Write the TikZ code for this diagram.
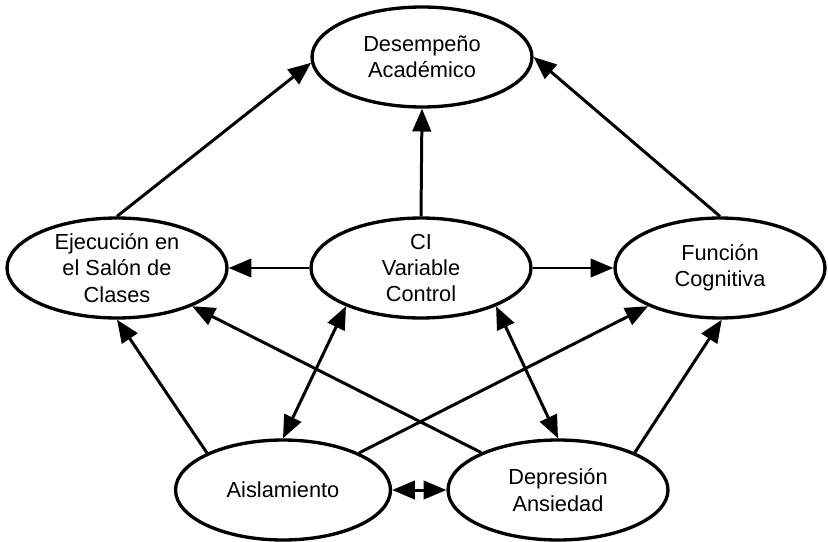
\documentclass[tikz,border=0pt]{standalone}
\usepackage{fontspec}
\setmainfont{Liberation Sans}
\usetikzlibrary{arrows.meta,shapes.geometric}
\tikzset{
  mdl var/.style={ellipse, draw=black, line width=1.9pt, inner sep=0pt, align=center,
    minimum width=4.4cm, minimum height=2cm, font=\fontsize{12.4}{15}\selectfont},
  mdl arrow/.style={draw=black, line width=1.7pt, -{Triangle[length=13pt,width=10.5pt]}},
  mdl both/.style={mdl arrow, {Triangle[length=13pt,width=10.5pt]}-{Triangle[length=13pt,width=10.5pt]}},
}

\begin{document}
\begin{tikzpicture}[x=0.02cm, y=-0.02cm]
  \useasboundingbox (0,0) rectangle (828,541);

  % Outcome at the top
  \node[mdl var] (desemp) at (422,57) {Desempeño\\Académico};

  % Middle row
  \node[mdl var] (ejec) at (117,268) {Ejecución en\\el Salón de\\Clases};
  \node[mdl var] (ci) at (421,268) {CI\\Variable\\Control};
  \node[mdl var, minimum width=4.2cm] (func) at (720,268) {Función\\Cognitiva};

  % Bottom row
  \node[mdl var, minimum width=4.3cm] (aisl) at (283,490) {Aislamiento};
  \node[mdl var] (depr) at (558,490) {Depresión\\Ansiedad};

  % Paths into the outcome
  \draw[mdl arrow] (ejec.north) -- (desemp.183);
  \draw[mdl arrow] (ci.north) -- (desemp.south);
  \draw[mdl arrow] (func.north) -- (desemp.east);

  % Control variable to the middle row
  \draw[mdl arrow] (ci.west) -- (ejec.east);
  \draw[mdl arrow] (ci.east) -- (func.west);

  % Bottom row up to the middle row
  \draw[mdl arrow] (aisl.154) -- (ejec.south);
  \draw[mdl arrow] (depr.154) -- (ejec.333);
  \draw[mdl arrow] (aisl.26) -- (func.208);
  \draw[mdl arrow] (depr.26) -- (func.272);

  % Two-way links
  \draw[mdl both] (ci.207) -- (aisl.north);
  \draw[mdl both] (ci.333) -- (depr.north);
  \draw[mdl both] (aisl.east) -- (depr.west);
\end{tikzpicture}
\end{document}
